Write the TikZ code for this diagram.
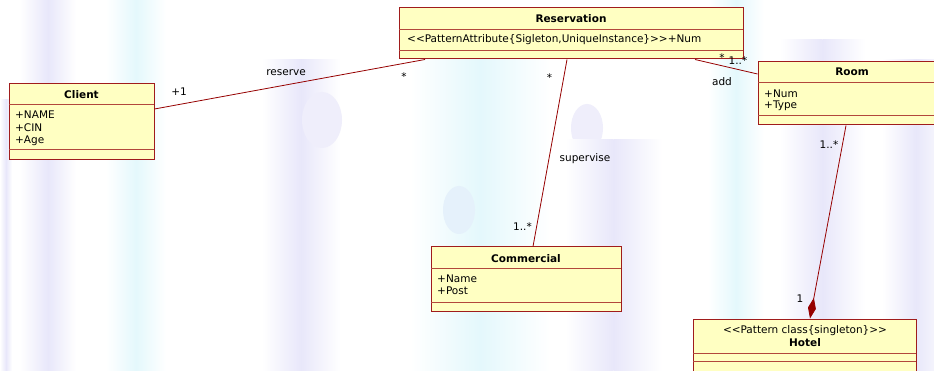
\documentclass[tikz,border=0pt]{standalone}
\usepackage{fontspec}
\setmainfont{DejaVu Sans}
\usetikzlibrary{fit,arrows.meta}

\definecolor{classfill}{RGB}{255,255,194}
\definecolor{classline}{RGB}{160,28,28}
\definecolor{sepcol}{RGB}{178,72,60}
\definecolor{assoc}{RGB}{150,0,0}
\definecolor{wmlav}{RGB}{232,231,250}
\definecolor{wmcyan}{RGB}{228,248,252}

\tikzset{
  classbox/.style={draw=classline, fill=classfill, line width=1pt, inner sep=0pt},
  sepline/.style={draw=sepcol, line width=1pt},
  assocline/.style={draw=assoc, line width=0.8pt},
  title/.style={font=\fontsize{10.5}{12.5}\selectfont\bfseries, inner sep=0pt},
  attr/.style={anchor=west, inner sep=0pt},
  lbl/.style={inner sep=0pt}
}

% class box: name, left, top, right, bottom, header rule, attribute rule
\newcommand\umlclass[7]{%
  \node[classbox, fit={(#2,#3) (#4,#5)}] (#1) {};
  \draw[sepline] (#2,#6) -- (#4,#6);
  \draw[sepline] (#2,#7) -- (#4,#7);
}
% soft vertical watermark band: left, right, top, colour
\newcommand\wmband[4]{%
  \shade[left color=white, right color=#4] (#1,#3) rectangle ({(#1+#2)/2},371);
  \shade[left color=#4, right color=white] ({(#1+#2)/2},#3) rectangle (#2,371);
}
\newcommand\dlt{<\kern0pt<}
\newcommand\dgt{>\kern0pt>}

\begin{document}
\begin{tikzpicture}[x=1pt, y=-1pt, font=\fontsize{10.5}{12.5}\selectfont]
\clip (0,0) rectangle (934,371);
\fill[white] (0,0) rectangle (934,371);

% faint logo watermark in the background
\wmband{0}{12}{100}{wmlav}
\wmband{20}{76}{0}{wmlav}
\wmband{106}{166}{0}{wmcyan}
\wmband{262}{340}{60}{wmlav}
\wmband{410}{550}{20}{wmcyan}
\fill[wmlav!70] (322,120) ellipse (20 and 28);
\fill[wmlav!70] (587,128) ellipse (16 and 24);
\fill[wmcyan!60!wmlav] (459,210) ellipse (16 and 24);
\wmband{565}{662}{140}{wmlav}
\wmband{708}{764}{0}{wmcyan}
\wmband{780}{865}{40}{wmlav}
\wmband{882}{950}{60}{wmlav}

% classes
\umlclass{res}{399}{8}{743}{59}{30}{50.5}
\node[title] (res-t) at (571,19) {Reservation};
\node[attr] (res-a) at (407,40) {\dlt PatternAttribute\{Sigleton,UniqueInstance\}\dgt+Num};

\umlclass{client}{9}{84}{154}{160}{105}{150}
\node[title] (client-t) at (81.5,95) {Client};
\node[attr] (client-a1) at (15,114.5) {+NAME};
\node[attr] (client-a2) at (15,128) {+CIN};
\node[attr] (client-a3) at (15,140.5) {+Age};

\umlclass{room}{758}{62}{944}{125}{83}{116}
\node[title] (room-t) at (852,72) {Room};
\node[attr] (room-a1) at (764,93.5) {+Num};
\node[attr] (room-a2) at (764,105.5) {+Type};

\umlclass{com}{431}{247}{621}{311}{269}{302}
\node[title] (com-t) at (526,258.5) {Commercial};
\node[attr] (com-a1) at (437,279) {+Name};
\node[attr] (com-a2) at (437,291) {+Post};

\umlclass{hotel}{693}{319}{916}{378}{353}{361}
\node[lbl] (hotel-s) at (805,331) {\dlt Pattern class\{singleton\}\dgt};
\node[title] (hotel-t) at (805,342.5) {Hotel};

% associations
\draw[assocline] ([yshift=13pt]client.east) -- ([xshift=-146pt]res.south);
\draw[assocline] ([xshift=-4pt]res.south) -- ([xshift=7pt]com.north);
\draw[assocline] ([xshift=124pt]res.south) -- ([yshift=19.5pt]room.west);
\draw[assocline, -{Diamond[length=21pt,width=8pt,fill=assoc]}]
  ([xshift=-5pt]room.south) -- ([xshift=5.5pt]hotel.north);

% association labels
\node[lbl] (l-reserve) at (286,72.5) {reserve};
\node[lbl] (l-c1) at (179,92) {+1};
\node[lbl] (l-r1) at (404,77) {*};
\node[lbl] (l-r2) at (549.5,78) {*};
\node[lbl] (l-supervise) at (585,159) {supervise};
\node[lbl] (l-c2) at (522.5,227) {1..*};
\node[lbl] (l-r3) at (722,58) {*};
\node[lbl] (l-m1) at (738,60.5) {1..*};
\node[lbl] (l-add) at (722,81.5) {add};
\node[lbl] (l-m2) at (829,145) {1..*};
\node[lbl] (l-h1) at (800,298.5) {1};
\end{tikzpicture}
\end{document}
